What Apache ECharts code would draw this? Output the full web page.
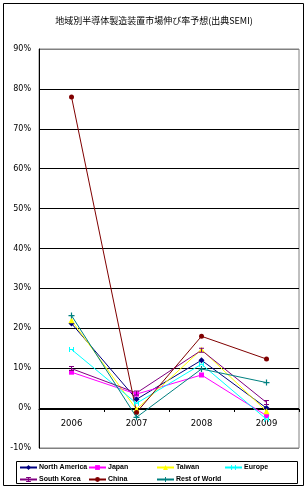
<!DOCTYPE html>
<html><head><meta charset="utf-8">
<script src="https://cdn.jsdelivr.net/npm/echarts@6/dist/echarts.min.js"></script>
<style>html,body{margin:0;padding:0;background:#fff}#c{width:308px;height:490px}</style>
</head><body><div id="c"></div>
<script>
const title = '地域別半導体製造装置市場伸び率予想(出典SEMI)';
const categories = ['2006', '2007', '2008', '2009'];
const yTicks = {min: -10, max: 90, interval: 10};
const northAmerica = [21.2, 2.2, 12.0, 0.0];
const japan = [9.0, 3.5, 8.3, -1.9];
const taiwan = [22.0, -0.3, 14.7, -0.8];
const europe = [14.7, 1.2, 11.0, -2.8];
const southKorea = [9.9, 3.8, 14.5, 1.4];
const china = [78.0, -1.1, 18.0, 12.3];
const restOfWorld = [23.2, -2.3, 9.8, 6.4];

const seriesDefs = [
  {name: 'North America', data: northAmerica, color: '#000080', symbol: 'diamond', size: 6},
  {name: 'Japan', data: japan, color: '#FF00FF', symbol: 'rect', size: 5},
  {name: 'Taiwan', data: taiwan, color: '#FFFF00', symbol: 'triangle', size: 6},
  {name: 'Europe', data: europe, color: '#00FFFF', symbol: 'path://M0,0L2,0L2,10L0,10ZM8,0L10,0L10,10L8,10ZM0,4L10,4L10,6L0,6Z', size: 5},
  {name: 'South Korea', data: southKorea, color: '#800080', symbol: 'path://M0,0L10,0L10,2L6,2L6,8L10,8L10,10L0,10L0,8L4,8L4,2L0,2Z', size: 5},
  {name: 'China', data: china, color: '#800000', symbol: 'circle', size: 5},
  {name: 'Rest of World', data: restOfWorld, color: '#008080', symbol: 'path://M4,0L6,0L6,4L10,4L10,6L6,6L6,10L4,10L4,6L0,6L0,4L4,4Z', size: 6}
];
const legendPos = [[19,464],[88,464],[156,464],[224,464],[19,476],[88,476],[156,476]];

const chart = echarts.init(document.getElementById('c'), null, {renderer: 'canvas'});
const gridColors = [];
for (let i = 0; i <= 10; i++) gridColors.push(i === 0 || i === 10 ? '#808080' : '#000000');

chart.setOption({
  animation: false,
  backgroundColor: '#fff',
  title: {text: title, left: 'center', top: 11,
    textStyle: {fontFamily: '"Noto Sans CJK JP", sans-serif', fontSize: 9, fontWeight: 'normal', color: '#000'}},
  graphic: [
    {type: 'rect', shape: {x: 3.5, y: 3.5, width: 300, height: 482}, style: {fill: 'none', stroke: '#000', lineWidth: 1}, z: -1},
    {type: 'rect', shape: {x: 16.5, y: 461.5, width: 281, height: 22}, style: {fill: 'none', stroke: '#000', lineWidth: 1}, z: 1}
  ],
  legend: seriesDefs.map((s, i) => ({
    data: [s.name], left: legendPos[i][0], top: legendPos[i][1],
    itemWidth: 17, itemHeight: 6, itemGap: 2, padding: 0,
    textStyle: {fontFamily: '"Liberation Sans", Arial, sans-serif', fontSize: 7, fontWeight: 'bold', color: '#000', padding: [0,0,0,-3]}
  })),
  grid: {left: 39, right: 9, top: 49, bottom: 42, show: true, borderColor: '#808080', borderWidth: 1, backgroundColor: 'transparent'},
  xAxis: [
    {type: 'category', data: categories, boundaryGap: true,
      axisLine: {show: false, onZero: false},
      axisTick: {show: false},
      axisLabel: {color: '#000', fontSize: 8.5, margin: -29, fontFamily: '"DejaVu Sans", sans-serif'},
      splitLine: {show: false}},
    {type: 'category', data: categories, boundaryGap: true, position: 'bottom', offset: -39,
      axisLine: {show: true, onZero: false, lineStyle: {color: '#000', width: 1}},
      axisTick: {show: true, length: 3, lineStyle: {color: '#000'}},
      axisLabel: {show: false},
      splitLine: {show: false}}
  ],
  yAxis: {type: 'value', min: yTicks.min, max: yTicks.max, interval: yTicks.interval,
    axisLine: {show: true, lineStyle: {color: '#000'}},
    axisTick: {show: false},
    axisLabel: {color: '#000', fontSize: 8, margin: 8, formatter: '{value}%', fontFamily: '"DejaVu Sans", sans-serif'},
    splitLine: {show: true, lineStyle: {color: gridColors, width: 1}}},
  series: seriesDefs.map(s => ({
    name: s.name, type: 'line', data: s.data, symbol: s.symbol, symbolSize: s.size,
    showSymbol: true, lineStyle: {color: s.color, width: 1}, itemStyle: {color: s.color},
    emphasis: {disabled: true}
  }))
});
</script></body></html>
